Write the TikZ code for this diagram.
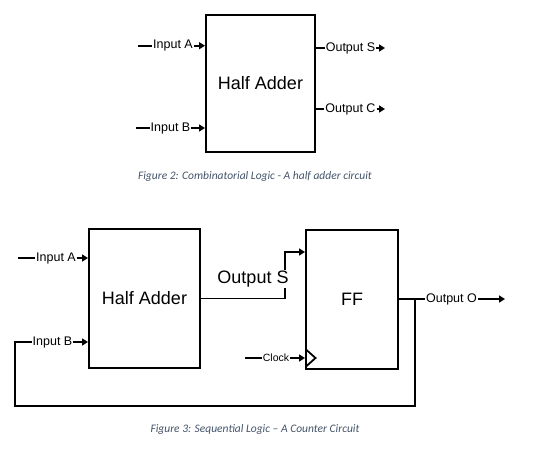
\documentclass[tikz,border=0pt]{standalone}
\usepackage{fontspec}
\setmainfont{Liberation Sans}
\newfontfamily\capfont{Carlito}
\usetikzlibrary{arrows.meta}
\usetikzlibrary{positioning}
\definecolor{capgray}{HTML}{44546A}

\begin{document}
\begin{tikzpicture}[
    x=1pt,y=-1pt,
    block/.style={draw,line width=2pt,inner sep=0pt,font=\fontsize{18}{20}\selectfont},
    wire/.style={line width=1.8pt},
    sig/.style={wire,-{Triangle[length=6pt,width=7pt]}},
    portlabel/.style={inner sep=0.8pt,font=\fontsize{12.5}{14}\selectfont},
    figcaption/.style={font=\capfont\itshape\fontsize{11.5}{13}\selectfont,text=capgray}
  ]
  \useasboundingbox (0,0) rectangle (534,460);

  % Figure 2: the half adder on its own
  \node[block,minimum width=109pt,minimum height=137pt] (ha1) at (260.5,83.5) {Half Adder};
  \coordinate (ina1s) at (138,45.7);
  \node[portlabel] (ina1) at (173,45.7) {Input A};
  \draw[wire] (ina1s) -- (ina1.west);
  \draw[sig] (ina1.east) -- (ina1.east -| ha1.west);
  \coordinate (inb1s) at (136,128);
  \node[portlabel] (inb1) at (170.5,128) {Input B};
  \draw[wire] (inb1s) -- (inb1.west);
  \draw[sig] (inb1.east) -- (inb1.east -| ha1.west);
  \node[portlabel] (outs1) at (350.5,48) {Output S};
  \coordinate (outs1e) at (385,48);
  \draw[wire] (outs1.west -| ha1.east) -- (outs1.west);
  \draw[sig] (outs1.east) -- (outs1e);
  \node[portlabel] (outc1) at (350.5,109) {Output C};
  \coordinate (outc1e) at (385,109);
  \draw[wire] (outc1.west -| ha1.east) -- (outc1.west);
  \draw[sig] (outc1.east) -- (outc1e);
  \node[figcaption] (cap1) at (255,176) {Figure 2: Combinatorial Logic - A half adder circuit};

  % Figure 3: half adder and flip-flop as a counter
  \node[block,minimum width=111pt,minimum height=139pt] (ha2) at (144.5,298.5) {Half Adder};
  \node[block,minimum width=92pt,minimum height=139pt] (ff) at (352,299.5) {FF};
  \coordinate (ina2s) at (18,258);
  \node[portlabel] (ina2) at (56,258) {Input A};
  \draw[wire] (ina2s) -- (ina2.west);
  \draw[sig] (ina2.east) -- (ina2.east -| ha2.west);
  \node[portlabel] (inb2) at (52.5,342) {Input B};
  \draw[sig] (inb2.east) -- (inb2.east -| ha2.west);
  % sum into the flip-flop
  \coordinate (sbend) at (285,252);
  \draw[sig] (ha2.east) -| (sbend) -- (sbend -| ff.west);
  \node[fill=white,inner sep=1pt,anchor=base,font=\fontsize{18}{20}\selectfont] (outs2) at (253,283.5) {Output S};
  % clock input
  \coordinate (clks) at (245,358);
  \node[inner sep=0.8pt,font=\fontsize{10.5}{12}\selectfont] (clk) at (276,358) {Clock};
  \draw[wire] (clks) -- (clk.west);
  \draw[sig] (clk.east) -- (clk.east -| ff.west);
  \draw[wire] (306,349.5) -- (315.5,358) -- (306,366.5);
  % output and feedback
  \node[portlabel] (outo) at (451.5,299) {Output O};
  \coordinate (outoe) at (505,299);
  \coordinate (fbtap) at (415,299);
  \coordinate (fbcorner) at (15,406);
  \draw[wire] (outo.west -| ff.east) -- (outo.west);
  \draw[sig] (outo.east) -- (outoe);
  \draw[wire] (fbtap) |- (fbcorner) |- (inb2.west);
  \node[figcaption] (cap2) at (255,429) {Figure 3: Sequential Logic – A Counter Circuit};
\end{tikzpicture}
\end{document}
